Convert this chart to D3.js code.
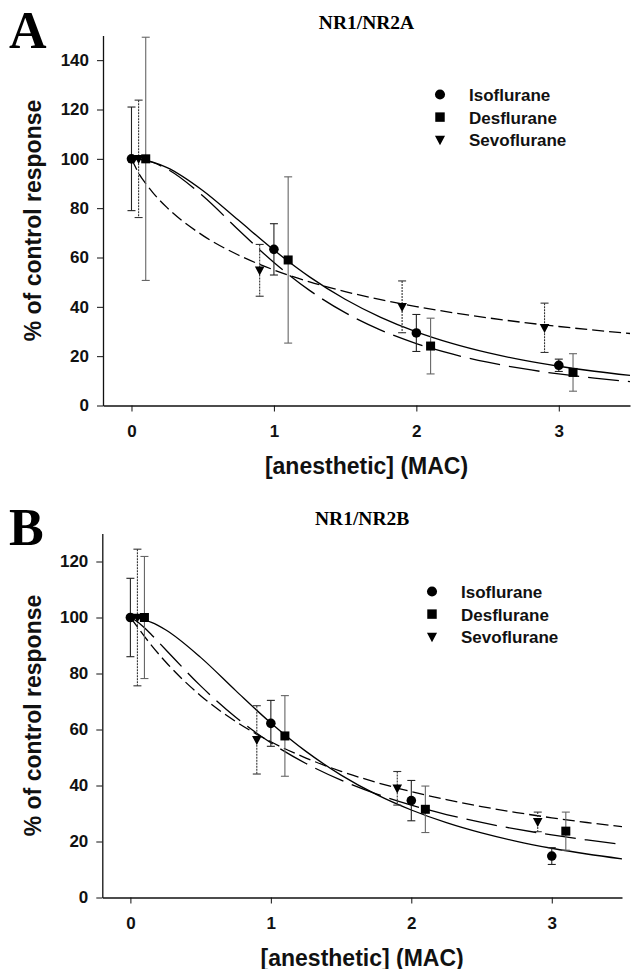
<!DOCTYPE html>
<html lang="en">
<head>
<meta charset="UTF-8">
<title>NR1/NR2A and NR1/NR2B anesthetic inhibition</title>
<script src="https://d3js.org/d3.v7.min.js"></script>
<style>
    body { margin: 0; background: white; }
    svg { display: block; }
    .tick text { font-family: 'Liberation Sans', Arial, sans-serif; font-weight: bold; font-size: 17px; fill: #111; }
    .axis path, .axis line { stroke: #111; }
</style>
</head>
<body>
<div id="chart"></div>
<script type="text/javascript">
// ---- data ----
const seriesNames = ["Isoflurane", "Desflurane", "Sevoflurane"];
const xTicks = [0, 1, 2, 3];
const yTicksA = [0, 20, 40, 60, 80, 100, 120, 140];
const yTicksB = [0, 20, 40, 60, 80, 100, 120];

// measured means (% of control) with error (+/-)
const isoA  = [{x: 0,    y: 100,  e: 21},   {x: 1,   y: 63.3, e: 10.4}, {x: 2,   y: 29.4, e: 7.5},  {x: 3,   y: 16.3, e: 2.5}];
const desA  = [{x: 0.1,  y: 100,  e: 49.3}, {x: 1.1, y: 59,   e: 33.7}, {x: 2.1, y: 24.1, e: 11.3}, {x: 3.1, y: 13.4, e: 7.6}];
const sevoA = [{x: 0.05, y: 100,  e: 23.8}, {x: 0.9, y: 54.8, e: 10.5}, {x: 1.9, y: 40,   e: 10.5}, {x: 2.9, y: 31.5, e: 10}];

const isoB  = [{x: 0,    y: 100,  e: 14},   {x: 1,   y: 62.2, e: 8.2},  {x: 2,   y: 34.6, e: 7.2},  {x: 3,   y: 14.8, e: 3}];
const desB  = [{x: 0.1,  y: 100,  e: 21.8}, {x: 1.1, y: 57.7, e: 14.4}, {x: 2.1, y: 31.5, e: 8.3},  {x: 3.1, y: 23.7, e: 6.8}];
const sevoB = [{x: 0.05, y: 100,  e: 24.4}, {x: 0.9, y: 56.3, e: 12.2}, {x: 1.9, y: 39,   e: 6},    {x: 2.9, y: 27,   e: 3.5}];

// fitted curves
const fitX      = [0, 0.05, 0.1, 0.15, 0.25, 0.5, 0.75, 1, 1.25, 1.5, 1.75, 2, 2.25, 2.5, 2.75, 3, 3.25, 3.5];
const isoFitA   = [100, 99.85, 99.42, 98.7, 96.46, 87.2, 75.17, 63.0, 52.15, 43.08, 35.74, 29.86, 25.17, 21.41, 18.38, 15.91, 13.88, 12.21];
const desFitA   = [100, 99.84, 99.34, 98.51, 95.89, 85.02, 71.28, 57.98, 46.67, 37.63, 30.59, 25.13, 20.88, 17.55, 14.91, 12.80, 11.08, 9.68];
const sevoFitA  = [100, 94.23, 89.96, 86.32, 80.21, 68.98, 61.01, 54.96, 50.14, 46.2, 42.9, 40.1, 37.67, 35.55, 33.68, 32.03, 30.54, 29.19];
const isoFitB   = [100, 99.77, 99.18, 98.27, 95.64, 85.76, 73.88, 62.33, 52.18, 43.72, 36.82, 31.25, 26.73, 23.06, 20.06, 17.59, 15.53, 13.80];
const desFitB   = [100, 98.5, 96.32, 93.85, 88.58, 75.57, 64.38, 55.24, 47.86, 41.89, 37.01, 32.99, 29.63, 26.80, 24.40, 22.33, 20.55, 18.99];
const sevoFitB  = [100, 96.62, 93.27, 90.07, 84.2, 72.09, 62.85, 55.61, 49.81, 45.07, 41.13, 37.8, 34.95, 32.49, 30.35, 28.46, 26.79, 25.3];

// ---- styling per series ----
const lineDash = ["", "31,9", "12,5"];
const barColor = ["#222", "#666", "#333"];
const barDash  = ["", "", "2,1"];
const shapes   = ["circle", "square", "triangle"];

const W = 631, H = 969;
const svg = d3.select("#chart").append("svg").attr("width", W).attr("height", H);

function marker(g, shape, x, y, s) {
    if (shape === "circle") {
        g.append("circle").attr("cx", x).attr("cy", y).attr("r", 4.8 * s).attr("fill", "#000");
    } else if (shape === "square") {
        const h = 4.5 * s;
        g.append("rect").attr("x", x - h).attr("y", y - h).attr("width", 2 * h).attr("height", 2 * h).attr("fill", "#000");
    } else {
        const w = 4.8 * s;
        g.append("path")
            .attr("d", `M${x - w},${y - 3.8 * s}L${x + w},${y - 3.8 * s}L${x},${y + 5.2 * s}Z`)
            .attr("fill", "#000");
    }
}

function drawPanel(p) {
    const g = svg.append("g");
    const x = d3.scaleLinear().domain([-0.2, 3.5]).range([p.left, p.right]);
    const y = d3.scaleLinear().domain([0, p.yMax]).range([p.bottom, p.top]);

    // axes
    g.append("g").attr("class", "axis")
        .attr("transform", `translate(0,${p.bottom})`)
        .call(d3.axisBottom(x).tickValues(xTicks).tickSize(6).tickSizeOuter(0).tickPadding(13).tickFormat(d3.format("d")))
        .call(a => a.select(".domain").attr("stroke-width", 1.6));
    g.append("g").attr("class", "axis")
        .attr("transform", `translate(${p.left},0)`)
        .call(d3.axisLeft(y).tickValues(p.yTicks).tickSize(6).tickSizeOuter(0).tickPadding(8))
        .call(a => a.select(".domain").attr("stroke-width", 1.3));

    // fitted curves
    const line = d3.line().x(d => x(d[0])).y(d => y(d[1])).curve(d3.curveMonotoneX);
    p.fits.forEach((f, i) => {
        g.append("path")
            .attr("d", line(fitX.map((v, k) => [v, f[k]])))
            .attr("fill", "none")
            .attr("stroke", "#000")
            .attr("stroke-width", 1.3)
            .attr("stroke-dasharray", lineDash[i]);
    });

    // error bars
    p.points.forEach((pts, i) => {
        pts.forEach(d => {
            const cx = x(d.x), y1 = y(d.y + d.e), y0 = y(d.y - d.e);
            g.append("line").attr("x1", cx).attr("x2", cx).attr("y1", y1).attr("y2", y0)
                .attr("stroke", barColor[i]).attr("stroke-width", 1.1).attr("stroke-dasharray", barDash[i]);
            [y1, y0].forEach(yy => {
                g.append("line").attr("x1", cx - 4).attr("x2", cx + 4).attr("y1", yy).attr("y2", yy)
                    .attr("stroke", barColor[i]).attr("stroke-width", 1.1);
            });
        });
    });

    // markers
    p.points.forEach((pts, i) => {
        pts.forEach(d => marker(g, shapes[i], x(d.x), y(d.y), 1));
    });

    // legend
    seriesNames.forEach((name, i) => {
        const by = p.legendY + i * 22.6;
        marker(g, shapes[i], p.legendX, by - 6.5, 1.05);
        g.append("text").attr("x", p.legendX + 29).attr("y", by)
            .attr("font-family", "'Liberation Sans', Arial, sans-serif")
            .attr("font-weight", "bold").attr("font-size", 17).attr("fill", "#111")
            .text(name);
    });

    // titles
    g.append("text")
        .attr("x", (p.left + p.right) / 2).attr("y", p.titleY)
        .attr("text-anchor", "middle")
        .attr("font-family", "'Liberation Serif', 'Times New Roman', serif")
        .attr("font-weight", "bold").attr("font-size", 19.5)
        .text(p.title);
    g.append("text")
        .attr("x", 9).attr("y", p.letterY)
        .attr("font-family", "'Liberation Serif', 'Times New Roman', serif")
        .attr("font-weight", "bold").attr("font-size", 52)
        .text(p.letter);
    g.append("text")
        .attr("x", (p.left + p.right) / 2).attr("y", p.bottom + 68)
        .attr("text-anchor", "middle")
        .attr("font-family", "'Liberation Sans', Arial, sans-serif")
        .attr("font-weight", "bold").attr("font-size", 23).attr("fill", "#111")
        .text("[anesthetic] (MAC)");
    g.append("text")
        .attr("transform", `translate(41,${(p.top + p.bottom) / 2}) rotate(-90)`)
        .attr("text-anchor", "middle")
        .attr("font-family", "'Liberation Sans', Arial, sans-serif")
        .attr("font-weight", "bold").attr("font-size", 23).attr("fill", "#111")
        .text("% of control response");
}

drawPanel({
    letter: "A", title: "NR1/NR2A", letterY: 48, titleY: 29,
    left: 103, right: 630, top: 35.5, bottom: 405.5, yMax: 150, yTicks: yTicksA,
    points: [isoA, desA, sevoA], fits: [isoFitA, desFitA, sevoFitA],
    legendX: 440, legendY: 101
});
drawPanel({
    letter: "B", title: "NR1/NR2B", letterY: 545, titleY: 525,
    left: 102.3, right: 622, top: 533.5, bottom: 897.5, yMax: 130, yTicks: yTicksB,
    points: [isoB, desB, sevoB], fits: [isoFitB, desFitB, sevoFitB],
    legendX: 432, legendY: 598
});
</script>
</body>
</html>
